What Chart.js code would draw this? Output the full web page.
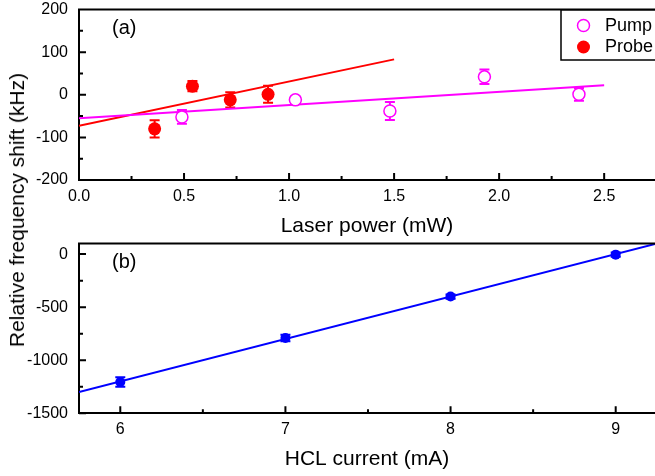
<!DOCTYPE html>
<html>
<head>
<meta charset="utf-8">
<script src="https://cdn.jsdelivr.net/npm/chart.js@4/dist/chart.umd.min.js"></script>
<style>
  html, body { margin: 0; padding: 0; background: #fff; overflow: hidden; }
  #wrap { position: relative; width: 655px; height: 476px; overflow: hidden; }
  canvas { position: absolute; left: 0; top: 0; }
  #y-title {
    position: absolute; left: 17px; top: 210px;
    transform: translate(-50%, -50%) rotate(-90deg);
    font: 21px "Liberation Sans", Arial, sans-serif;
    white-space: nowrap; color: #000;
  }
</style>
</head>
<body>
<div id="wrap">
  <canvas id="chart-a" width="655" height="476"></canvas>
  <canvas id="chart-b" width="655" height="476"></canvas>
  <div id="y-title">Relative frequency shift (kHz)</div>
</div>
<script>
// panel (a): shift vs laser power
const pumpPower = [0.49, 1.03, 1.48, 1.93, 2.38];
const pumpShift = [-52, -12, -38, 42, 1];
const pumpErr = [16, 8, 21, 17, 15];
const probePower = [0.36, 0.54, 0.72, 0.90];
const probeShift = [-80, 20, -12, 1];
const probeErr = [20, 12, 18, 20];
const pumpFitX = [0, 2.5], pumpFitY = [-55, 22];
const probeFitX = [0, 1.5], probeFitY = [-73, 83];
const powerTicks = [0, 0.5, 1, 1.5, 2, 2.5];
const shiftTicksA = [-200, -100, 0, 100, 200];

// panel (b): shift vs HCL current
const hclCurrent = [6, 7, 8, 9];
const hclShift = [-1205, -790, -400, -5];
const hclErr = [45, 30, 20, 20];
const hclFitX = [5.75, 9.25], hclFitY = [-1300, 100];
const currentTicks = [6, 7, 8, 9];
const shiftTicksB = [-1500, -1000, -500, 0];

const MAGENTA = "#ff00ff", RED = "#ff0000", BLUE = "#0000ff";
Chart.defaults.font.family = "'Liberation Sans', Arial, sans-serif";
Chart.defaults.color = "#000";

function pts(xs, ys) {
  return xs.map((x, i) => ({ x: x, y: ys[i] }));
}

function minorOf(ticks, min, max) {
  const step = ticks[1] - ticks[0];
  const out = [];
  for (let v = ticks[0] - step / 2; v <= max + 1e-9; v += step) {
    if (v >= min - 1e-9) out.push(v);
  }
  return out;
}

// no extra room for overhanging labels, the plot box is fixed by layout padding
function noPad(s) {
  s.paddingTop = 0; s.paddingBottom = 0; s.paddingLeft = 0; s.paddingRight = 0;
}

// frame line on top + inward tick marks
const frameTicks = {
  id: "frameTicks",
  afterDraw(chart) {
    const { ctx, chartArea: a, scales: { x, y } } = chart;
    ctx.save();
    ctx.strokeStyle = "#000";
    ctx.lineWidth = 2;
    ctx.beginPath();
    ctx.moveTo(a.left - 1, a.top);
    ctx.lineTo(a.right + 2, a.top);
    const xt = x.ticks.map(t => t.value), yt = y.ticks.map(t => t.value);
    xt.forEach(v => { const p = x.getPixelForValue(v); ctx.moveTo(p, a.bottom); ctx.lineTo(p, a.bottom - 7); });
    minorOf(xt, x.min, x.max).forEach(v => { const p = x.getPixelForValue(v); ctx.moveTo(p, a.bottom); ctx.lineTo(p, a.bottom - 4); });
    yt.forEach(v => { const p = y.getPixelForValue(v); ctx.moveTo(a.left, p); ctx.lineTo(a.left + 7, p); });
    minorOf(yt, y.min, y.max).forEach(v => { const p = y.getPixelForValue(v); ctx.moveTo(a.left, p); ctx.lineTo(a.left + 4, p); });
    ctx.stroke();

    const lab = chart.options.plugins.frameTicks;
    if (lab && lab.label) {
      ctx.fillStyle = "#000";
      ctx.font = "20px 'Liberation Sans', Arial, sans-serif";
      ctx.textBaseline = "middle";
      ctx.fillText(lab.label, a.left + 33, a.top + 19);
    }
    ctx.restore();
  }
};

// vertical error bars with caps
const errorBars = {
  id: "errorBars",
  beforeDatasetsDraw(chart) {
    const { ctx, chartArea: a, scales: { x, y } } = chart;
    ctx.save();
    ctx.beginPath();
    ctx.rect(a.left, a.top, a.right - a.left, a.bottom - a.top);
    ctx.clip();
    chart.data.datasets.forEach(ds => {
      if (!ds.errorBars) return;
      ctx.strokeStyle = ds.pointBorderColor;
      ctx.lineWidth = 2;
      ctx.beginPath();
      ds.data.forEach((d, i) => {
        const e = ds.errorBars[i];
        const px = x.getPixelForValue(d.x);
        const top = y.getPixelForValue(d.y + e), bot = y.getPixelForValue(d.y - e);
        ctx.moveTo(px, top); ctx.lineTo(px, bot);
        ctx.moveTo(px - 5, top); ctx.lineTo(px + 5, top);
        ctx.moveTo(px - 5, bot); ctx.lineTo(px + 5, bot);
      });
      ctx.stroke();
    });
    ctx.restore();
  }
};

// boxed legend in the upper right corner of panel (a)
const boxLegend = {
  id: "boxLegend",
  afterDraw(chart) {
    const ctx = chart.ctx;
    ctx.save();
    ctx.fillStyle = "#fff";
    ctx.strokeStyle = "#000";
    ctx.lineWidth = 1.5;
    ctx.fillRect(561, 10, 120, 50);
    ctx.strokeRect(561, 10, 120, 50);
    ctx.beginPath();
    ctx.arc(583.5, 25.5, 6, 0, Math.PI * 2);
    ctx.fillStyle = "#fff"; ctx.fill();
    ctx.strokeStyle = MAGENTA; ctx.lineWidth = 1.5; ctx.stroke();
    ctx.beginPath();
    ctx.arc(583.5, 47, 6.5, 0, Math.PI * 2);
    ctx.fillStyle = RED; ctx.fill();
    ctx.fillStyle = "#000";
    ctx.font = "18px 'Liberation Sans', Arial, sans-serif";
    ctx.textBaseline = "middle";
    ctx.fillText("Pump", 605, 26);
    ctx.fillText("Probe", 605, 47.5);
    ctx.restore();
  }
};

function axisX(min, max, ticks, fmt, title) {
  return {
    type: "linear", min: min, max: max,
    afterBuildTicks: s => { s.ticks = ticks.map(v => ({ value: v })); },
    afterFit: s => { s.height = 59; noPad(s); },
    ticks: { callback: fmt, font: { size: 16 }, color: "#000", padding: 7, maxRotation: 0, autoSkip: false },
    grid: { display: false, drawTicks: false },
    border: { display: true, color: "#000", width: 2 },
    title: { display: true, text: title, font: { size: 21 }, padding: 0, color: "#000" }
  };
}

function axisY(min, max, ticks) {
  return {
    type: "linear", min: min, max: max,
    afterBuildTicks: s => { s.ticks = ticks.map(v => ({ value: v })); },
    afterFit: s => { s.width = 79; noPad(s); },
    ticks: { callback: v => String(v), font: { size: 16 }, color: "#000", padding: 11, autoSkip: false },
    grid: { display: false, drawTicks: false },
    border: { display: true, color: "#000", width: 2 }
  };
}

new Chart(document.getElementById("chart-a"), {
  type: "scatter",
  data: {
    datasets: [
      { data: pts(pumpPower, pumpShift), errorBars: pumpErr, pointRadius: 6, pointBorderWidth: 1.5,
        pointBorderColor: MAGENTA, pointBackgroundColor: "#fff" },
      { data: pts(probePower, probeShift), errorBars: probeErr, pointRadius: 6.5, pointBorderWidth: 0,
        pointBorderColor: RED, pointBackgroundColor: RED },
      { data: pts(pumpFitX, pumpFitY), showLine: true, pointRadius: 0, borderColor: MAGENTA, borderWidth: 2 },
      { data: pts(probeFitX, probeFitY), showLine: true, pointRadius: 0, borderColor: RED, borderWidth: 2 }
    ]
  },
  options: {
    responsive: false, animation: false, devicePixelRatio: 1,
    layout: { autoPadding: false, padding: { top: 9.5, left: 0, right: 0, bottom: 237 } },
    plugins: { legend: { display: false }, tooltip: { enabled: false }, frameTicks: { label: "(a)" } },
    scales: {
      x: axisX(0, 2.742, powerTicks, v => v.toFixed(1), "Laser power (mW)"),
      y: axisY(-200, 200, shiftTicksA)
    }
  },
  plugins: [errorBars, frameTicks, boxLegend]
});

new Chart(document.getElementById("chart-b"), {
  type: "scatter",
  data: {
    datasets: [
      { data: pts(hclCurrent, hclShift), errorBars: hclErr, pointRadius: 5, pointBorderWidth: 0,
        pointBorderColor: BLUE, pointBackgroundColor: BLUE },
      { data: pts(hclFitX, hclFitY), showLine: true, pointRadius: 0, borderColor: BLUE, borderWidth: 2 }
    ]
  },
  options: {
    responsive: false, animation: false, devicePixelRatio: 1,
    layout: { autoPadding: false, padding: { top: 243.5, left: 0, right: 0, bottom: 3.7 } },
    plugins: { legend: { display: false }, tooltip: { enabled: false }, frameTicks: { label: "(b)" } },
    scales: {
      x: axisX(5.75, 9.238, currentTicks, v => String(v), "HCL current (mA)"),
      y: axisY(-1500, 100, shiftTicksB)
    }
  },
  plugins: [errorBars, frameTicks]
});
</script>
</body>
</html>
